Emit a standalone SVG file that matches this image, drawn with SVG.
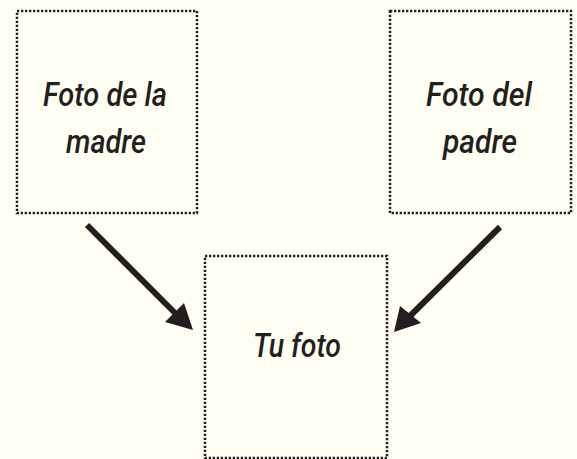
<svg xmlns="http://www.w3.org/2000/svg" width="577" height="459" viewBox="0 0 577 459">
<style>
.box{fill:none;stroke:#231f20;stroke-width:2.5;stroke-dasharray:2.3 1.7}
.lbl{font-family:Roboto,"DejaVu Sans Condensed",sans-serif;font-style:italic;font-weight:500;font-size:34px;fill:#231f20;text-anchor:middle}
.conn{stroke:#231f20;stroke-width:6;fill:none}
.head{fill:#231f20}
</style>
<rect width="577" height="459" fill="#fffef2"/>
<g id="madre">
<rect class="box" x="17" y="11" width="180" height="202"/>
<text class="lbl" x="105" y="106" textLength="124" lengthAdjust="spacingAndGlyphs">Foto de la</text>
<text class="lbl" x="106" y="153" textLength="80" lengthAdjust="spacingAndGlyphs">madre</text>
</g>
<g id="padre">
<rect class="box" x="390" y="11" width="181" height="202"/>
<text class="lbl" x="479" y="106" textLength="106" lengthAdjust="spacingAndGlyphs">Foto del</text>
<text class="lbl" x="480" y="153" textLength="74" lengthAdjust="spacingAndGlyphs">padre</text>
</g>
<g id="tu">
<rect class="box" x="205" y="256" width="182" height="202"/>
<text class="lbl" x="297" y="357" textLength="88" lengthAdjust="spacingAndGlyphs">Tu foto</text>
</g>
<g id="connectors">
<line class="conn" x1="87" y1="225" x2="176" y2="314"/>
<polygon class="head" points="193,330 165,322 184,303"/>
<line class="conn" x1="500" y1="227" x2="410" y2="316"/>
<polygon class="head" points="394,332 400,306 421,323"/>
</g>
</svg>
